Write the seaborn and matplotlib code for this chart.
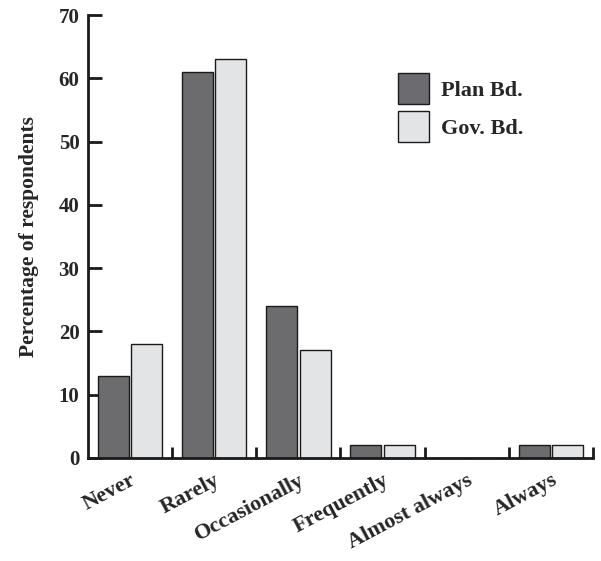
import numpy as np
import pandas as pd
import matplotlib
matplotlib.use("Agg")
import matplotlib.pyplot as plt
import matplotlib.transforms as mtransforms
import seaborn as sns
from matplotlib.patches import Patch

# ── Data ─────────────────────────────────────────────────────
categories = ["Never", "Rarely", "Occasionally", "Frequently", "Almost always", "Always"]
plan_bd    = [13, 61, 24, 2, 0, 2]
gov_bd     = [18, 63, 17, 2, 0, 2]
series     = ["Plan Bd.", "Gov. Bd."]
colors     = ["#6b6b70", "#e3e4e6"]
yticks     = [0, 10, 20, 30, 40, 50, 60, 70]

df = pd.DataFrame({
    "category": categories * 2,
    "value": plan_bd + gov_bd,
    "board": [series[0]] * len(categories) + [series[1]] * len(categories),
})

# ── Style ────────────────────────────────────────────────────
sns.set_style("white")
plt.rcParams["font.family"] = ["Liberation Serif", "DejaVu Serif"]
plt.rcParams["font.weight"] = "bold"

fig = plt.figure(figsize=(6.01, 5.61), dpi=100)
ax = fig.add_axes([0.146, 0.184, 0.841, 0.789])

sns.barplot(data=df, x="category", y="value", hue="board", order=categories,
            hue_order=series, palette=colors, width=0.8, gap=0.08,
            edgecolor="#1a1a1a", linewidth=1.0, ax=ax, legend=False)

ax.set_xlim(-0.5, 5.5)
ax.set_ylim(0, 70)
ax.set_yticks(yticks)
ax.set_yticklabels([str(t) for t in yticks], fontsize=15, fontweight="bold")

ax.set_xticks(range(len(categories)))
ax.set_xticklabels(categories, rotation=28, ha="right", rotation_mode="anchor",
                   fontsize=16, fontweight="bold")
shift = mtransforms.ScaledTranslation(5 / 72, 0, fig.dpi_scale_trans)
for lbl in ax.get_xticklabels():
    lbl.set_transform(lbl.get_transform() + shift)
ax.set_xticks(np.arange(0.5, 6.0, 1.0), minor=True)
ax.tick_params(axis="x", which="major", bottom=True, length=0, pad=9)
ax.tick_params(axis="x", which="minor", bottom=True, direction="in", length=8,
               width=2, color="#1a1a1a")
ax.tick_params(axis="y", left=True, direction="in", length=10, width=2,
               color="#1a1a1a", pad=6)

for s in ["top", "right"]:
    ax.spines[s].set_visible(False)
for s in ["left", "bottom"]:
    ax.spines[s].set_linewidth(2)
    ax.spines[s].set_color("#1a1a1a")

ax.set_xlabel("")
ax.set_ylabel("Percentage of respondents", fontsize=15.5, fontweight="bold", labelpad=14)

# Legend
handles = [Patch(facecolor=c, edgecolor="#1a1a1a", linewidth=1.0) for c in colors]
ax.legend(handles, series, loc="upper left", bbox_to_anchor=(0.575, 0.914),
          frameon=False, prop={"size": 16, "weight": "bold"},
          handlelength=1.4, handleheight=1.72, labelspacing=0.35, handletextpad=0.5)

fig.savefig("out.png", dpi=100)
